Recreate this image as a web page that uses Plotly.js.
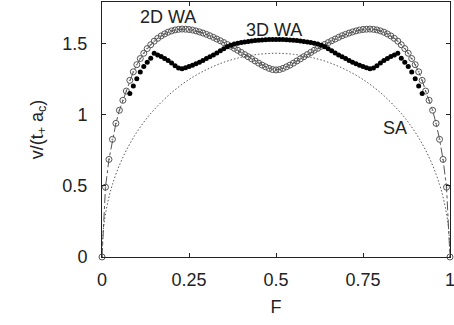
<!DOCTYPE html>
<html>
<head>
<meta charset="utf-8">
<script src="https://cdn.plot.ly/plotly-3.0.1.min.js"></script>
<style>html,body{margin:0;padding:0;background:#fff;}#chart{width:454px;height:325px;}</style>
</head>
<body>
<div id="chart"></div>
<script>
// F grid for the 2D WA series (step 0.01)
const F2D = [0,0.01,0.02,0.03,0.04,0.05,0.06,0.07,0.08,0.09,0.10,0.11,0.12,0.13,0.14,0.15,0.16,0.17,0.18,0.19,0.20,0.21,0.22,0.23,0.24,0.25,0.26,0.27,0.28,0.29,0.30,0.31,0.32,0.33,0.34,0.35,0.36,0.37,0.38,0.39,0.40,0.41,0.42,0.43,0.44,0.45,0.46,0.47,0.48,0.49,0.50,0.51,0.52,0.53,0.54,0.55,0.56,0.57,0.58,0.59,0.60,0.61,0.62,0.63,0.64,0.65,0.66,0.67,0.68,0.69,0.70,0.71,0.72,0.73,0.74,0.75,0.76,0.77,0.78,0.79,0.80,0.81,0.82,0.83,0.84,0.85,0.86,0.87,0.88,0.89,0.90,0.91,0.92,0.93,0.94,0.95,0.96,0.97,0.98,0.99,1.00];
const wa2D = [0,0.49,0.685,0.826,0.938,1.03,1.10,1.165,1.24,1.30,1.35,1.393,1.43,1.463,1.49,1.515,1.535,1.552,1.566,1.578,1.587,1.594,1.598,1.600,1.599,1.597,1.593,1.587,1.580,1.572,1.563,1.553,1.542,1.530,1.518,1.505,1.492,1.479,1.465,1.451,1.436,1.421,1.406,1.391,1.376,1.361,1.347,1.335,1.324,1.316,1.313,
  1.316,1.324,1.335,1.347,1.361,1.376,1.391,1.406,1.421,1.436,1.451,1.465,1.479,1.492,1.505,1.518,1.530,1.542,1.553,1.563,1.572,1.580,1.587,1.593,1.597,1.599,1.600,1.598,1.594,1.587,1.578,1.566,1.552,1.535,1.515,1.49,1.463,1.43,1.393,1.35,1.30,1.24,1.165,1.10,1.03,0.938,0.826,0.685,0.49,0];

// F grid for the 3D WA series
const F3D = [0.08,0.09,0.10,0.11,0.12,0.13,0.14,0.15,0.16,0.17,0.18,0.19,0.20,0.21,0.22,0.23,0.24,0.25,0.26,0.27,0.28,0.29,0.30,0.31,0.32,0.33,0.34,0.35,0.36,0.37,0.38,0.39,0.40,0.41,0.42,0.43,0.44,0.45,0.46,0.47,0.48,0.49,0.50,0.51,0.52,0.53,0.54,0.55,0.56,0.57,0.58,0.59,0.60,0.61,0.62,0.63,0.64,0.65,0.66,0.67,0.68,0.69,0.70,0.71,0.72,0.73,0.74,0.75,0.76,0.77,0.78,0.79,0.80,0.81,0.82,0.83,0.84,0.85,0.86,0.87,0.88,0.89,0.90,0.91,0.92];
const wa3D = [1.147,1.20,1.252,1.299,1.337,1.367,1.395,1.43,1.418,1.407,1.394,1.379,1.362,1.343,1.326,1.322,1.328,1.337,1.346,1.356,1.367,1.38,1.393,1.405,1.418,1.432,1.447,1.462,1.476,1.487,1.495,1.501,1.506,1.51,1.513,1.516,1.519,1.521,1.523,1.525,1.526,1.527,1.527,
  1.527,1.526,1.525,1.523,1.521,1.519,1.516,1.513,1.51,1.506,1.501,1.495,1.487,1.476,1.462,1.447,1.432,1.418,1.405,1.393,1.38,1.367,1.356,1.346,1.337,1.328,1.322,1.326,1.343,1.362,1.379,1.394,1.407,1.418,1.43,1.395,1.367,1.337,1.299,1.252,1.20,1.147];

// SA curve
const FSA = [0,0.0025,0.005,0.01,0.02,0.03,0.05,0.075,0.1,0.125,0.15,0.2,0.25,0.3,0.35,0.4,0.45,0.5,0.55,0.6,0.65,0.7,0.75,0.8,0.85,0.875,0.9,0.925,0.95,0.97,0.98,0.99,0.995,0.9975,1];
const saV = [0,0.157,0.218,0.304,0.421,0.509,0.644,0.773,0.876,0.962,1.035,1.154,1.246,1.315,1.367,1.402,1.423,1.43,1.423,1.402,1.367,1.315,1.246,1.154,1.035,0.962,0.876,0.773,0.644,0.509,0.421,0.304,0.218,0.157,0];

const xTicks = [0,0.25,0.5,0.75,1];
const xTickText = ['0','0.25','0.5','0.75','1'];
const yTicks = [0,0.5,1,1.5];
const yTickText = ['0','0.5','1','1.5'];

const FONT = 'Liberation Sans, Arial, Helvetica, sans-serif';

const traces = [
  {x: FSA, y: saV, mode: 'lines', line: {color: '#444', width: 0.9, dash: '1.5px,2px', shape: 'spline'}, showlegend: false, hoverinfo: 'skip'},
  {x: F2D, y: wa2D, mode: 'lines+markers', cliponaxis: false,
   line: {color: '#555', width: 1, dash: 'dashdot'},
   marker: {symbol: 'circle-open-dot', size: 6, color: '#555', line: {width: 1, color: '#555'}}, showlegend: false},
  {x: F3D, y: wa3D, mode: 'markers',
   marker: {symbol: 'circle', size: 5, color: '#000'}, showlegend: false}
];

const axisCommon = {showline: true, linecolor: '#222', linewidth: 1, mirror: 'ticks', ticks: 'inside', ticklen: 4, tickcolor: '#222', showgrid: false, zeroline: false, tickfont: {family: FONT, size: 18, color: '#222'}};

const layout = {
  width: 454, height: 325,
  margin: {l: 102, r: 4, t: 2, b: 68},
  paper_bgcolor: '#fff', plot_bgcolor: '#fff',
  font: {family: FONT, size: 18, color: '#222'},
  xaxis: Object.assign({}, axisCommon, {range: [0, 1], tickvals: xTicks, ticktext: xTickText, ticklabelstandoff: 6, ticklabeloverflow: 'allow',
    title: {text: 'F', font: {family: FONT, size: 18, color: '#222'}, standoff: 11}}),
  yaxis: Object.assign({}, axisCommon, {range: [0, 1.79], tickvals: yTicks, ticktext: yTickText, ticklabelstandoff: 10, ticklabeloverflow: 'allow',
    title: {text: 'v/(t<sub>+</sub> a<sub>c</sub>)', font: {family: FONT, size: 18, color: '#222'}, standoff: 14}}),
  annotations: [
    {x: 0.19, y: 1.684, xref: 'x', yref: 'y', text: '2D WA', showarrow: false, font: {family: FONT, size: 18, color: '#222'}},
    {x: 0.494, y: 1.593, xref: 'x', yref: 'y', text: '3D WA', showarrow: false, font: {family: FONT, size: 18, color: '#222'}},
    {x: 0.841, y: 0.907, xref: 'x', yref: 'y', text: 'SA', showarrow: false, font: {family: FONT, size: 18, color: '#222'}}
  ]
};

Plotly.newPlot('chart', traces, layout, {displayModeBar: false, staticPlot: true});
</script>
</body>
</html>
